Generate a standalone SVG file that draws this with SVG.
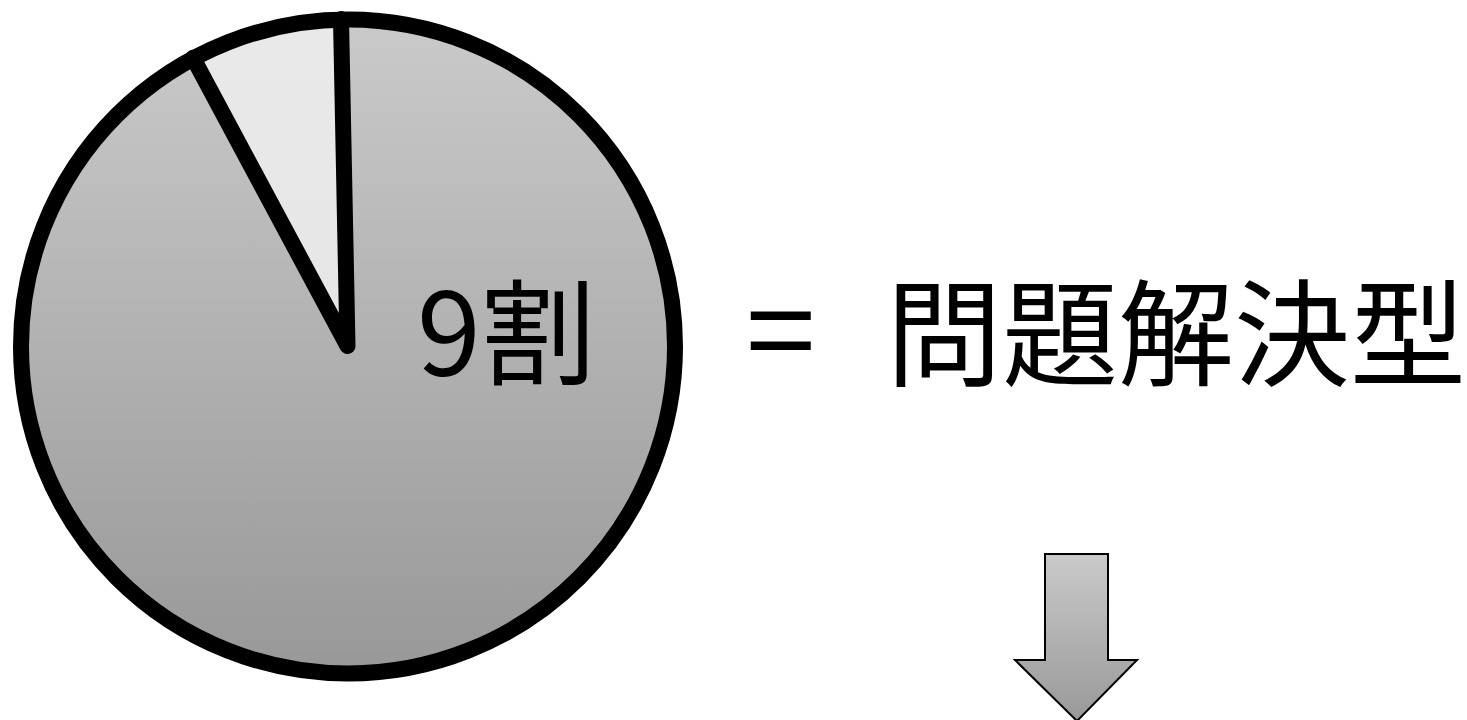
<svg xmlns="http://www.w3.org/2000/svg" width="1467" height="720" viewBox="0 0 1467 720">
<style>
.lbl{font-family:"Noto Sans CJK JP","Noto Sans",sans-serif;font-size:116px;fill:#000}
.edge{stroke:#000;stroke-width:16;stroke-linecap:round;stroke-linejoin:round}
</style>
<defs>
<linearGradient id="gPie" gradientUnits="userSpaceOnUse" x1="0" y1="19" x2="0" y2="674">
<stop offset="0" stop-color="#cacaca"/><stop offset="1" stop-color="#989898"/>
</linearGradient>
<linearGradient id="gSmall" gradientUnits="userSpaceOnUse" x1="0" y1="19" x2="0" y2="346">
<stop offset="0" stop-color="#e9e9e9"/><stop offset="1" stop-color="#e6e6e6"/>
</linearGradient>
<linearGradient id="gArrow" x1="0" y1="0" x2="0" y2="1">
<stop offset="0" stop-color="#cacaca"/><stop offset="1" stop-color="#999999"/>
</linearGradient>
</defs>
<rect width="1467" height="720" fill="#fff"/>
<g id="pie">
<path d="M347.5,346 L341,19 A327,327 0 1 1 193,57.8 Z" fill="url(#gPie)"/>
<path d="M347.5,346 L193,57.8 A327,327 0 0 1 341,19 Z" fill="url(#gSmall)"/>
<circle cx="348" cy="346.5" r="327" fill="none" stroke="#000" stroke-width="16"/>
<polyline class="edge" points="193,57.8 347.5,346 341,19" fill="none"/>
<text class="lbl" x="417" y="376" style="font-size:115px">9割</text>
</g>
<g id="label">
<text class="lbl" y="377"><tspan x="746" style="font-size:125px">=</tspan><tspan x="886">問題解決型</tspan></text>
</g>
<g id="connectors">
<polygon points="1045,554 1108,554 1108,660 1137,660 1077,721 1015,660 1045,660" fill="url(#gArrow)" stroke="#000" stroke-width="2"/>
</g>
</svg>
